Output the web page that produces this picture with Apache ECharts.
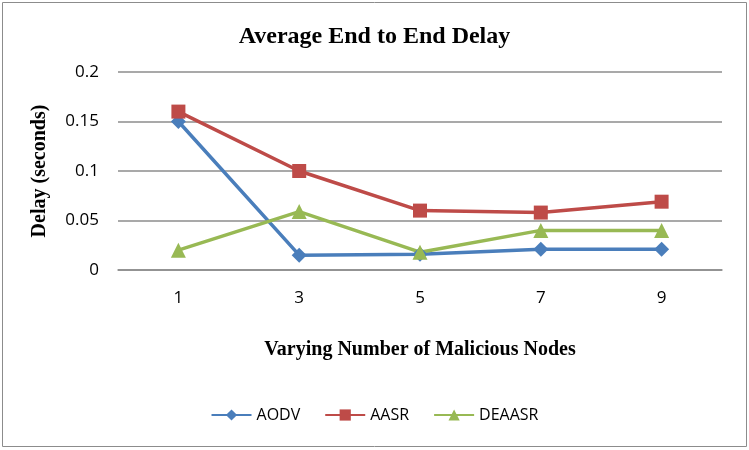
<!DOCTYPE html>
<html lang="en">
<head>
    <meta charset="UTF-8">
    <title>Average End to End Delay</title>
    <script src="https://cdn.jsdelivr.net/npm/echarts@6/dist/echarts.min.js"></script>
    <style>
        body { margin: 0; background: #fff; }
    </style>
</head>
<body>
    <div id="ec" style="width:749px;height:450px"></div>
</body>
<script>
    var nodes = ['1', '3', '5', '7', '9']
    var aodv = [0.15, 0.015, 0.016, 0.021, 0.021]
    var aasr = [0.16, 0.1, 0.06, 0.058, 0.069]
    var deaasr = [0.02, 0.059, 0.018, 0.04, 0.04]

    var mychart = echarts.init(document.getElementById('ec'))

    function line(name, data, color, symbol, size) {
        return {
            name: name,
            type: 'line',
            data: data,
            symbol: symbol,
            symbolSize: size,
            itemStyle: { color: color },
            lineStyle: { color: color, width: 3.5 }
        }
    }

    var options = {
        animation: false,
        title: {
            text: 'Average End to End Delay',
            left: 'center',
            top: 20,
            textStyle: { fontFamily: 'Liberation Serif', fontWeight: 'bold', fontSize: 24, color: '#000' }
        },
        graphic: [{
            type: 'rect',
            shape: { x: 2.5, y: 2.5, width: 744, height: 444 },
            style: { fill: 'none', stroke: '#8c8c8c', lineWidth: 1 }
        }],
        legend: {
            bottom: 22,
            left: 'center',
            itemWidth: 40,
            itemHeight: 14,
            itemGap: 24,
            textStyle: { fontFamily: 'Open Sans', fontSize: 16, color: '#000' },
            data: ['AODV', 'AASR', 'DEAASR']
        },
        grid: { left: 118, right: 27, top: 72, bottom: 180 },
        xAxis: {
            type: 'category',
            data: nodes,
            boundaryGap: true,
            name: 'Varying Number of Malicious Nodes',
            nameLocation: 'middle',
            nameGap: 70,
            nameTextStyle: { fontFamily: 'Liberation Serif', fontWeight: 'bold', fontSize: 20, color: '#000' },
            axisLine: { lineStyle: { color: '#8c8c8c', width: 1.5 } },
            axisTick: { show: false },
            axisLabel: { fontFamily: 'Open Sans', fontSize: 17, color: '#000', margin: 20 }
        },
        yAxis: {
            type: 'value',
            min: 0,
            max: 0.2,
            interval: 0.05,
            name: 'Delay (seconds)',
            nameLocation: 'middle',
            nameGap: 68,
            nameTextStyle: { fontFamily: 'Liberation Serif', fontWeight: 'bold', fontSize: 20, color: '#000' },
            axisLine: { show: false },
            axisTick: { show: false },
            axisLabel: { fontFamily: 'Open Sans', fontSize: 17, color: '#000', margin: 19 },
            splitLine: { lineStyle: { color: '#8c8c8c', width: 1.5 } }
        },
        series: [
            line('AODV', aodv, '#4a7ebb', 'diamond', 15),
            line('AASR', aasr, '#be4b48', 'rect', 14),
            line('DEAASR', deaasr, '#98b954', 'triangle', 15)
        ]
    }

    mychart.setOption(options)
</script>
</html>
